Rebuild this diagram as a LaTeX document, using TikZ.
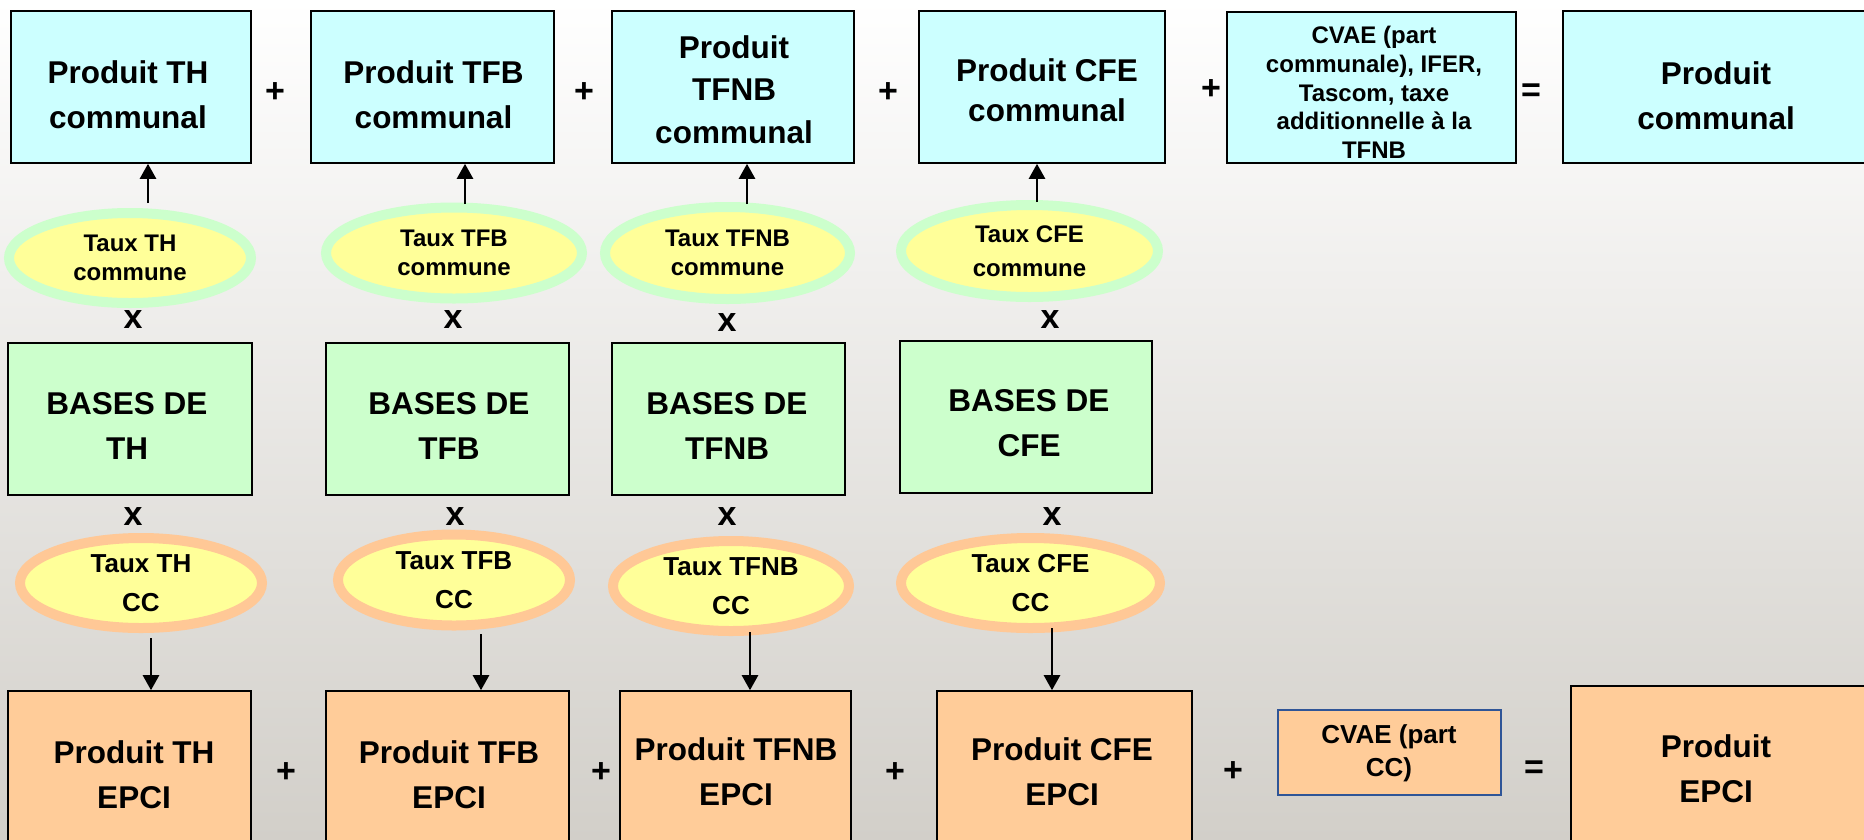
\documentclass[tikz,border=0pt]{standalone}
\usepackage{fontspec}
\setmainfont{Liberation Sans}
\usetikzlibrary{shapes.geometric,arrows.meta}
\definecolor{cyanfill}{HTML}{CCFFFF}
\definecolor{greenfill}{HTML}{CCFFCC}
\definecolor{orangefill}{HTML}{FFCC99}
\definecolor{yellowfill}{HTML}{FFFF99}
\definecolor{greenring}{HTML}{CCFFCC}
\definecolor{orangering}{HTML}{FFC896}
\definecolor{blueborder}{HTML}{2F5597}
\definecolor{bgbottom}{RGB}{210,207,201}
\tikzset{
  sz/.style 2 args={minimum width=#1pt, minimum height=#2pt},
  rbox/.style={draw=black, line width=1.6pt, inner sep=0pt},
  cbox/.style={rbox, fill=cyanfill},
  gbox/.style={rbox, fill=greenfill},
  obox/.style={rbox, fill=orangefill},
  bbox/.style={draw=blueborder, line width=1.3pt, fill=orangefill, inner sep=0pt},
  big/.style={font=\fontsize{31.5}{45}\selectfont\bfseries, align=center, inner sep=0pt},
  small/.style={font=\fontsize{24}{28.7}\selectfont\bfseries, align=center, inner sep=0pt},
  ell/.style={ellipse, fill=yellowfill, line width=10pt, inner sep=0pt, align=center,
    font=\fontsize{24}{29}\selectfont\bfseries},
  ellg/.style={ell, draw=greenring},
  ello/.style={ell, draw=orangering, font=\fontsize{26}{39.5}\selectfont\bfseries},
  sym/.style={font=\fontsize{34}{34}\selectfont\bfseries, inner sep=0pt},
  arr/.style={line width=2.5pt, -{Triangle[width=16pt,length=15pt]}}
}
\begin{document}
\begin{tikzpicture}[x=1pt,y=-1pt]
\useasboundingbox (0,0) rectangle (1864,839);
\clip (0,0) rectangle (1864,839);
\shade[top color=white, bottom color=bgbottom] (0,0) rectangle (1864,839);

% ---------- row 1: communal products ----------
\node[cbox, sz={240}{152}] (thc) at (131,87) {};
\node[big] (thct) at (128,94.5) {Produit TH\\communal};
\node[cbox, sz={243}{152}] (tfbc) at (432.5,87) {};
\node[big] (tfbct) at (433.5,94.5) {Produit TFB\\communal};
\node[cbox, sz={242}{152}] (tfnbc) at (733,87) {};
\node[big, font=\fontsize{31.5}{42.5}\selectfont\bfseries] (tfnbct) at (734,89.5) {Produit\\TFNB\\communal};
\node[cbox, sz={246}{152}] (cfec) at (1042,87) {};
\node[big, font=\fontsize{31.5}{40}\selectfont\bfseries] (cfect) at (1047,90) {Produit CFE\\communal};
\node[cbox, sz={289}{151}] (cvaec) at (1371.5,87.5) {};
\node[small] (cvaect) at (1374,92.5) {CVAE (part\\communale), IFER,\\Tascom, taxe\\additionnelle à la\\TFNB};
\node[cbox, sz={317}{152}] (pcomm) at (1721.5,87) {};
\node[big] (pcommt) at (1716,95.5) {Produit\\communal};

\node[sym] (p1) at (275,93) {+};
\node[sym] (p2) at (584,93) {+};
\node[sym] (p3) at (888,93) {+};
\node[sym] (p4) at (1211,90) {+};
\node[sym] (e1) at (1531,93) {=};

% ---------- row 2: communal rates ----------
\node[ellg, sz={242}{90}] (thce) at (130,258) {Taux TH\\commune};
\node[ellg, sz={256}{91}] (tfbce) at (454,253) {Taux TFB\\commune};
\node[ellg, sz={245}{92}] (tfnbce) at (727.5,253) {Taux TFNB\\commune};
\node[ellg, sz={257}{92}, font=\fontsize{24}{34}\selectfont\bfseries] (cfece) at (1029.5,251) {Taux CFE\\commune};

\coordinate (u1) at (148,203);
\coordinate (u2) at (465,204);
\coordinate (u3) at (747,204);
\coordinate (u4) at (1037,202);
\draw[arr] (u1) -- (thc.south -| u1);
\draw[arr] (u2) -- (tfbc.south -| u2);
\draw[arr] (u3) -- (tfnbc.south -| u3);
\draw[arr] (u4) -- (cfec.south -| u4);

\node[sym] (x1) at (133,320) {x};
\node[sym] (x2) at (453,320) {x};
\node[sym] (x3) at (727,323) {x};
\node[sym] (x4) at (1050,320) {x};

% ---------- row 3: bases ----------
\node[gbox, sz={244}{152}] (thb) at (130,419) {};
\node[big] (thbt) at (127,425.5) {BASES DE\\TH};
\node[gbox, sz={243}{152}] (tfbb) at (447.5,419) {};
\node[big] (tfbbt) at (449,425.5) {BASES DE\\TFB};
\node[gbox, sz={233}{152}] (tfnbb) at (728.5,419) {};
\node[big] (tfnbbt) at (727,425.5) {BASES DE\\TFNB};
\node[gbox, sz={252}{152}] (cfeb) at (1026,417) {};
\node[big] (cfebt) at (1029,423.5) {BASES DE\\CFE};

\node[sym] (y1) at (133,517) {x};
\node[sym] (y2) at (455,517) {x};
\node[sym] (y3) at (727,517) {x};
\node[sym] (y4) at (1052,517) {x};

% ---------- row 4: CC rates ----------
\node[ello, sz={242}{90}] (thcc) at (141,583) {Taux TH\\CC};
\node[ello, sz={232}{91}] (tfbcc) at (454,580) {Taux TFB\\CC};
\node[ello, sz={236}{90}] (tfnbcc) at (731,586) {Taux TFNB\\CC};
\node[ello, sz={259}{90}] (cfecc) at (1030.5,583) {Taux CFE\\CC};

% ---------- row 5: EPCI products ----------
\node[obox, sz={243}{209}] (the) at (129.5,795.5) {};
\node[big] (thet) at (134,774.5) {Produit TH\\EPCI};
\node[obox, sz={243}{209}] (tfbe) at (447.5,795.5) {};
\node[big] (tfbet) at (449,774.5) {Produit TFB\\EPCI};
\node[obox, sz={231}{209}] (tfnbe) at (735.5,795.5) {};
\node[big] (tfnbet) at (736,771.5) {Produit TFNB\\EPCI};
\node[obox, sz={255}{209}] (cfee) at (1064.5,795.5) {};
\node[big] (cfeet) at (1062,771.5) {Produit CFE\\EPCI};
\node[bbox, sz={223}{85}] (cvaecc) at (1389.5,752.5) {};
\node[font=\fontsize{26}{33}\selectfont\bfseries, align=center, inner sep=0pt] (cvaecct) at (1389,753.5) {CVAE (part\\CC)};
\node[obox, sz={319}{214}] (pepci) at (1730.5,793) {};
\node[big] (pepcit) at (1716,768.5) {Produit\\EPCI};

\node[sym] (q1) at (286,773) {+};
\node[sym] (q2) at (601,773) {+};
\node[sym] (q3) at (895,773) {+};
\node[sym] (q4) at (1233,772) {+};
\node[sym] (e2) at (1534,770) {=};

\coordinate (d1) at (151,638);
\coordinate (d2) at (481,634);
\coordinate (d3) at (750,632);
\coordinate (d4) at (1052,628);
\draw[arr] (d1) -- (the.north -| d1);
\draw[arr] (d2) -- (tfbe.north -| d2);
\draw[arr] (d3) -- (tfnbe.north -| d3);
\draw[arr] (d4) -- (cfee.north -| d4);
\end{tikzpicture}
\end{document}
